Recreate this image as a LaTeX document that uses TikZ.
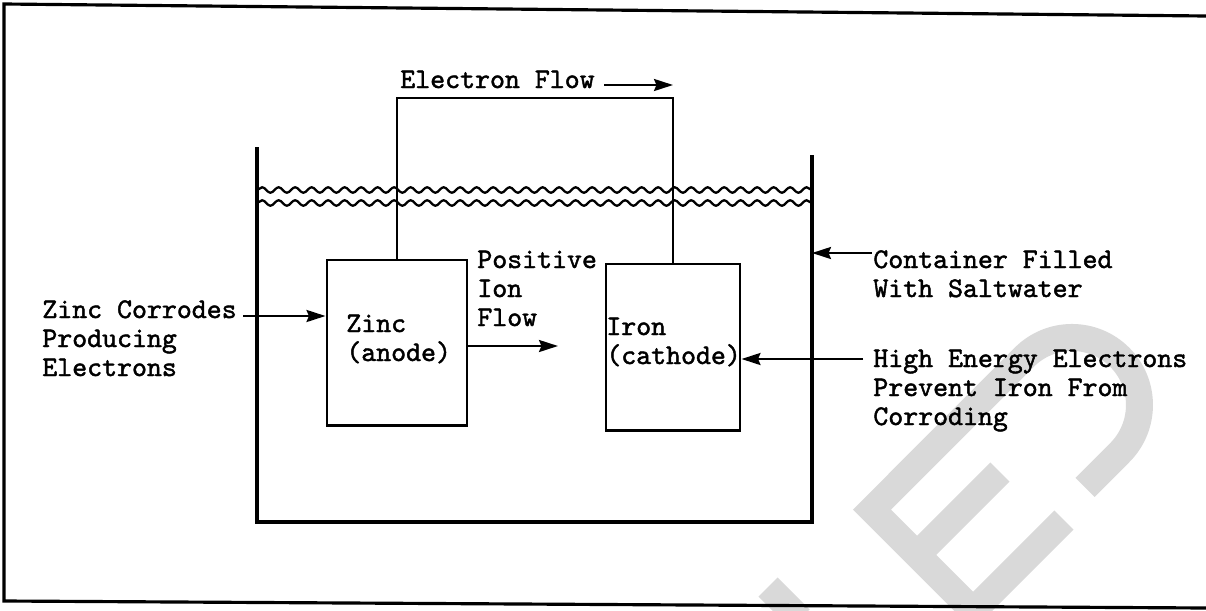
\documentclass[tikz,border=0pt]{standalone}
\usepackage{fontspec}
\newfontfamily\typefont{lmmono10-regular.otf}[FakeBold=1.6]
\usetikzlibrary{arrows.meta,decorations.pathmorphing}
\definecolor{MarkClr}{RGB}{217,217,217}

\begin{document}
\begin{tikzpicture}[x=0.2mm,y=-0.2mm,
  font=\typefont\fontsize{16.2}{16.5}\selectfont,
  txt/.style={anchor=base west,inner sep=0pt,align=left},
  cell/.style={draw,line width=1.7pt,minimum width=28mm,minimum height=33mm,inner sep=0pt},
  arr/.style={line width=1.4pt,-{Stealth[length=3.8mm,width=2.4mm,inset=0.5mm]}},
  wave/.style={line width=1.3pt,decorate,decoration={snake,segment length=3.3mm,amplitude=0.55mm}}]
\useasboundingbox (0,0) rectangle (1206,611);

% watermark
\begin{scope}
\clip (0,0) rectangle (1206,611);
\draw[MarkClr,line width=5.4mm,line join=miter] (1085,487.4) -- (1119.7,452.7)
  arc[start angle=45,end angle=-135,radius=67.5] -- (872,509.6) -- (1010,647.6);
\draw[MarkClr,line width=5.4mm] (917,555) -- (1000,472) (973,611) -- (1064,520)
  (768,587) -- (800,619);
\end{scope}

% frame and container
\draw[line width=1.8pt] (1206,16) -- (4,4) -- (4,601) -- (1206,608);
\coordinate (TL) at (257,147);
\coordinate (TR) at (812,155);
\draw[line width=1.8pt] (TL) -- (257,522) -- (812,522) -- (TR);
\draw[wave] (257,190) -- (812,190);
\draw[wave] (257,203) -- (812,203);

% electrodes
\node[cell] (Zn) at (397,342.5) {};
\node[cell,minimum width=26.8mm,minimum height=33.2mm] (Fe) at (673,347) {};
\coordinate (W) at (0,98);
\draw[line width=1.6pt] (Zn.north) -- (Zn.north |- W) -| (Fe.north);

\node[txt] (ElTxt) at (400,88) {Electron Flow};
\node[txt] (ZnTxt) at (346,361) {Zinc\\(anode)};
\node[txt] (FeTxt) at (606,364) {Iron\\(cathode)};
\node[txt] (IonTxt) at (477,326) {Positive\\Ion\\Flow};
\node[txt] (ZnNote) at (42,376) {Zinc Corrodes\\Producing\\Electrons};
\node[txt] (BoxNote) at (873,297) {Container Filled\\With Saltwater};
\node[txt] (FeNote) at (873,425) {High Energy Electrons\\Prevent Iron From\\Corroding};

% arrows
\coordinate (e1) at (604,85);
\coordinate (a1) at (243,316);
\coordinate (i1) at (558,346);
\coordinate (c1) at (872,253);
\coordinate (h1) at (863,359);
\draw[arr] (e1) -- (e1 -| Fe.north);
\draw[arr] (a1) -- (a1 -| Zn.west);
\draw[arr] (i1 -| Zn.east) -- (i1);
\draw[arr] (c1) -- (c1 -| TR);
\draw[arr] (h1) -- (h1 -| Fe.east);

\end{tikzpicture}
\end{document}
